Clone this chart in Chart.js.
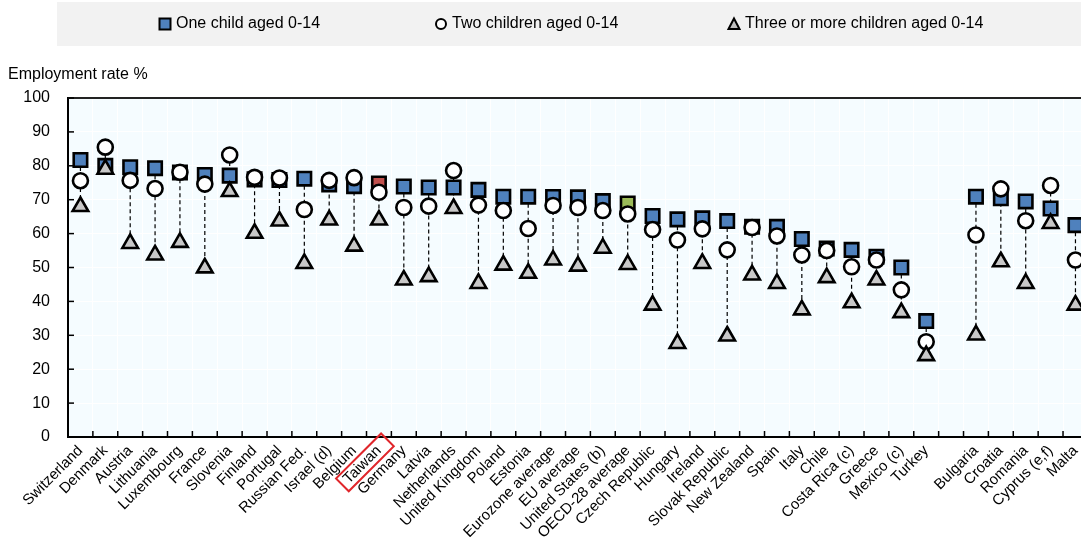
<!DOCTYPE html>
<html>
<head>
<meta charset="utf-8">
<script src="https://cdn.jsdelivr.net/npm/chart.js@4"></script>
<style>
  html, body { margin: 0; padding: 0; overflow: hidden; background: #fff; }
  #wrap { width: 1100px; height: 537px; }
</style>
</head>
<body>
<div id="wrap"><canvas id="chart" width="1100" height="537"></canvas></div>
<script>
const categories = ['Switzerland', 'Denmark', 'Austria', 'Lithuania', 'Luxembourg', 'France', 'Slovenia', 'Finland',
    'Portugal', 'Russian Fed.', 'Israel (d)', 'Belgium', 'Taiwan', 'Germany', 'Latvia', 'Netherlands', 'United Kingdom',
    'Poland', 'Estonia', 'Eurozone average', 'EU average', 'United States (b)', 'OECD-28 average', 'Czech Republic',
    'Hungary', 'Ireland', 'Slovak Republic', 'New Zealand', 'Spain', 'Italy', 'Chile', 'Costa Rica (c)', 'Greece',
    'Mexico (c)', 'Turkey', '', 'Bulgaria', 'Croatia', 'Romania', 'Cyprus (e,f)', 'Malta'];

const oneChild = [81.7, 80, 79.6, 79.3, 78, 77.3, 77.1, 76, 75.8, 76.2, 74.5, 74, 74.8, 73.9, 73.6, 73.6, 72.9,
    70.9, 70.9, 70.8, 70.7, 69.6, 68.9, 65.2, 64.2, 64.5, 63.7, 62, 62, 58.4, 55.6, 55.2, 53.2, 50, 34.2, null,
    70.9, 70.4, 69.5, 67.4, 62.5];
const twoChildren = [75.6, 85.5, 75.7, 73.3, 78.1, 74.6, 83.2, 76.6, 76.4, 67.1, 75.7, 76.5, 72.2, 67.7, 68.1, 78.6, 68.4,
    66.8, 61.5, 68.3, 67.7, 66.8, 65.8, 61.2, 58.1, 61.4, 55.2, 61.8, 59.3, 53.7, 55, 50.2, 52.2, 43.4, 28.1, null,
    59.6, 73.2, 63.8, 74.2, 52.2];
const threePlus = [68, 79, 57.1, 53.7, 57.4, 49.9, 72.4, 60.1, 63.7, 51.2, 64, 56.3, 64, 46.3, 47.3, 67.4, 45.3,
    50.7, 48.3, 52.2, 50.4, 55.7, 50.9, 38.9, 27.6, 51.2, 29.8, 47.8, 45.3, 37.5, 47, 39.6, 46.3, 36.7, 24, null,
    30.1, 51.7, 45.3, 63, 38.9];

const seriesNames = ['One child aged 0-14', 'Two children aged 0-14', 'Three or more children aged 0-14'];
const yTicks = [0, 10, 20, 30, 40, 50, 60, 70, 80, 90, 100];

const FONT = "'Liberation Sans', Arial, sans-serif";

// background, dashed range lines, frame, legend
const rangePlugin = {
    id: 'ranges',
    beforeDraw(chart) {
        const { ctx, chartArea } = chart;
        ctx.save();
        ctx.fillStyle = '#F5FCFF';
        ctx.fillRect(chartArea.left, chartArea.top, chartArea.right - chartArea.left, chartArea.bottom - chartArea.top);
        ctx.restore();
    },
    beforeDatasetsDraw(chart) {
        const { ctx, scales } = chart;
        ctx.save();
        ctx.strokeStyle = '#000';
        ctx.lineWidth = 1.2;
        ctx.setLineDash([4, 3]);
        categories.forEach(function (c, i) {
            const vals = [oneChild[i], twoChildren[i], threePlus[i]].filter(v => v !== null);
            if (!vals.length) return;
            const x = scales.x.getPixelForValue(i);
            ctx.beginPath();
            ctx.moveTo(x, scales.y.getPixelForValue(Math.max(...vals)));
            ctx.lineTo(x, scales.y.getPixelForValue(Math.min(...vals)));
            ctx.stroke();
        });
        ctx.restore();
    },
    afterDraw(chart) {
        const { ctx, chartArea, scales } = chart;
        ctx.save();
        // top frame line
        ctx.strokeStyle = '#222';
        ctx.lineWidth = 2;
        ctx.beginPath();
        ctx.moveTo(chartArea.left, chartArea.top);
        ctx.lineTo(chartArea.right, chartArea.top);
        ctx.stroke();
        // inward tick marks
        ctx.strokeStyle = '#000';
        ctx.lineWidth = 1.5;
        for (let i = 1; i < categories.length; i++) {
            const x = (scales.x.getPixelForValue(i - 1) + scales.x.getPixelForValue(i)) / 2;
            ctx.beginPath();
            ctx.moveTo(x, chartArea.bottom);
            ctx.lineTo(x, chartArea.bottom - 6);
            ctx.stroke();
        }
        yTicks.forEach(function (t) {
            const y = scales.y.getPixelForValue(t);
            ctx.beginPath();
            ctx.moveTo(chartArea.left, y);
            ctx.lineTo(chartArea.left + 6, y);
            ctx.stroke();
        });

        // red box around Taiwan label
        const items = scales.x.getLabelItems();
        const it = items.find(o => o.label === 'Taiwan');
        if (it) {
            ctx.font = '15px ' + FONT;
            const w = ctx.measureText('Taiwan').width;
            ctx.translate(it.options.translation[0], it.options.translation[1]);
            ctx.rotate(it.options.rotation);
            ctx.strokeStyle = '#E0262B';
            ctx.lineWidth = 2;
            ctx.strokeRect(-w - 5, it.textOffset - 9, w + 17, 18);
        }
        ctx.restore();

        // axis title
        ctx.save();
        ctx.fillStyle = '#000';
        ctx.font = '16px ' + FONT;
        ctx.textBaseline = 'alphabetic';
        ctx.fillText('Employment rate %', 8, 79);
        ctx.restore();

        // legend
        ctx.save();
        ctx.fillStyle = '#F2F2F2';
        ctx.fillRect(57, 2, chart.width - 57, 44);
        const ly = 24;
        const lx = [165, 441, 734];
        ctx.lineWidth = 2;
        ctx.strokeStyle = '#000';
        ctx.fillStyle = '#4F81BD';
        ctx.fillRect(lx[0] - 5.5, ly - 5.5, 11, 11);
        ctx.strokeRect(lx[0] - 5.5, ly - 5.5, 11, 11);
        ctx.fillStyle = '#fff';
        ctx.beginPath();
        ctx.arc(lx[1], ly, 5, 0, Math.PI * 2);
        ctx.fill();
        ctx.stroke();
        ctx.fillStyle = '#BFBFBF';
        ctx.beginPath();
        ctx.moveTo(lx[2], ly - 5.5);
        ctx.lineTo(lx[2] + 5.5, ly + 5);
        ctx.lineTo(lx[2] - 5.5, ly + 5);
        ctx.closePath();
        ctx.fill();
        ctx.stroke();
        ctx.fillStyle = '#000';
        ctx.font = '16px ' + FONT;
        ctx.textBaseline = 'middle';
        seriesNames.forEach(function (n, i) {
            ctx.fillText(n, lx[i] + 11, ly);
        });
        ctx.restore();
    }
};

function squareColor(context) {
    const name = categories[context.dataIndex];
    if (name === 'Taiwan') return '#C0504D';
    if (name === 'OECD-28 average') return '#9BBB59';
    return '#4F81BD';
}

const chart = new Chart(document.getElementById('chart'), {
    type: 'line',
    data: {
        labels: categories,
        datasets: [
            {
                label: seriesNames[0],
                data: oneChild,
                showLine: false,
                pointStyle: 'rect',
                pointRadius: 9.5,
                pointBackgroundColor: squareColor,
                pointBorderColor: '#000',
                pointBorderWidth: 2.6,
                order: 2
            },
            {
                label: seriesNames[1],
                data: twoChildren,
                showLine: false,
                pointStyle: 'circle',
                pointRadius: 7.5,
                pointBackgroundColor: '#fff',
                pointBorderColor: '#000',
                pointBorderWidth: 2.6,
                order: 1
            },
            {
                label: seriesNames[2],
                data: threePlus,
                showLine: false,
                pointStyle: 'triangle',
                pointRadius: 9,
                pointBackgroundColor: '#C8C8C8',
                pointBorderColor: '#000',
                pointBorderWidth: 2.6,
                order: 0
            }
        ]
    },
    options: {
        responsive: false,
        animation: false,
        events: [],
        layout: { padding: { top: 98, right: 11, left: 0, bottom: 0 } },
        plugins: {
            legend: { display: false },
            tooltip: { enabled: false }
        },
        scales: {
            x: {
                offset: true,
                grid: { offset: true, color: '#FFFFFF', lineWidth: 1, drawTicks: false },
                border: { display: true, color: '#000', width: 2 },
                ticks: {
                    autoSkip: false,
                    maxRotation: 45,
                    minRotation: 45,
                    padding: 5,
                    color: '#000',
                    font: { family: FONT, size: 15 }
                },
                afterFit(scale) { scale.height = 100; }
            },
            y: {
                min: 0,
                max: 100,
                grid: { color: '#FFFFFF', lineWidth: 1, drawTicks: false },
                border: { display: true, color: '#000', width: 2 },
                ticks: {
                    stepSize: 10,
                    padding: 18,
                    color: '#000',
                    font: { family: FONT, size: 16 }
                },
                afterFit(scale) { scale.width = 68; }
            }
        }
    },
    plugins: [rangePlugin]
});
</script>
</body>
</html>
